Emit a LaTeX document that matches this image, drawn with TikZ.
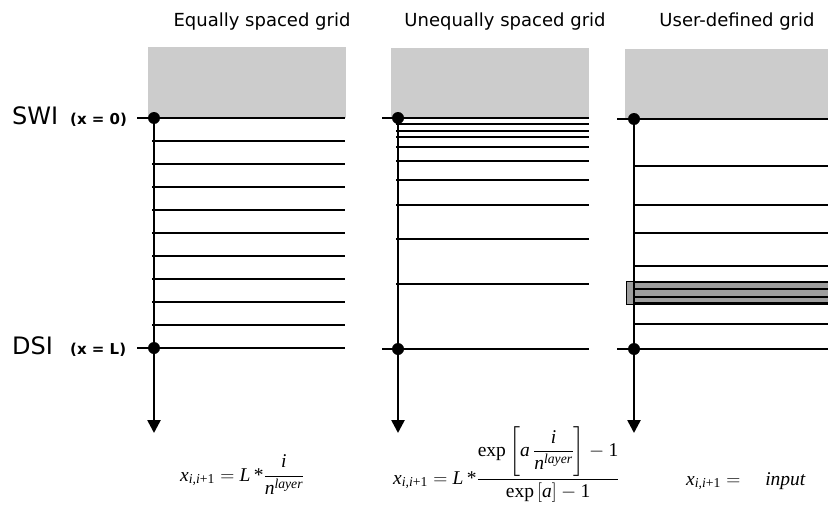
\RequirePackage{fix-cm}
\documentclass[tikz,border=0pt]{standalone}
\usepackage{amsmath}
\usepackage{fontspec}
\setmainfont{DejaVu Sans}
\newfontfamily\tmsfont{Liberation Serif}
\newcommand{\tv}[1]{\text{\tmsfont\itshape #1}}
\newcommand{\tr}[1]{\text{\tmsfont #1}}
\usetikzlibrary{arrows.meta}
\definecolor{boxgray}{HTML}{CCCCCC}
\definecolor{bandgray}{HTML}{9E9E9E}
\tikzset{
  titlelbl/.style={font=\fontsize{18}{20}\selectfont, anchor=base, inner sep=0},
  biglbl/.style={font=\fontsize{24}{26}\selectfont, anchor=base west, inner sep=0},
  smalllbl/.style={font=\fontsize{15}{17}\selectfont\bfseries, anchor=base west, inner sep=0},
  dotnode/.style={circle, fill=black, minimum size=12pt, inner sep=0},
  axisline/.style={line width=2.6pt, -{Triangle[width=13pt,length=13pt]}},
  boundline/.style={line width=2.4pt},
  gridline/.style={line width=1.4pt},
  eqlbl/.style={font=\fontsize{19.5}{22}\selectfont, inner sep=0, anchor=base west},
}
\begin{document}
\begin{tikzpicture}[x=1pt,y=-1pt]
\useasboundingbox (0,0) rectangle (828,506);
% titles
\node[titlelbl] (t1) at (262,27) {Equally spaced grid};
\node[titlelbl] (t2) at (505,27) {Unequally spaced grid};
\node[titlelbl] (t3) at (737,27) {User-defined grid};
% side labels
\node[biglbl] (swi) at (12,124) {SWI};
\node[smalllbl] (swix) at (70,124) {(x = 0)};
\node[biglbl] (dsi) at (12,354) {DSI};
\node[smalllbl] (dsix) at (70,354) {(x = L)};
% gray boxes
\fill[boxgray] (148,47) rectangle (346,118);
\fill[boxgray] (391,48) rectangle (589,118);
\fill[boxgray] (625,49) rectangle (828,118);
% ===== panel 1 =====
\foreach \y in {141,164,187,210,233,256,279,302,325}
  \draw[gridline] (152,\y) -- (345,\y);
\coordinate (a1s) at (137,118); \coordinate (a1e) at (345,118);
\coordinate (b1s) at (137,348); \coordinate (b1e) at (345,348);
\draw[boundline] (a1s) -- (a1e);
\draw[boundline] (b1s) -- (b1e);
\node[dotnode] (d1a) at (154,118) {};
\node[dotnode] (d1b) at (154,348) {};
\coordinate (tip1) at (154,433);
\draw[axisline] (d1a.center) -- (tip1);
% ===== panel 2 =====
\foreach \y in {124,131,137,147,161,180,205,239,284}
  \draw[gridline] (396,\y) -- (589,\y);
\coordinate (a2s) at (382,118); \coordinate (a2e) at (589,118);
\coordinate (b2s) at (382,349); \coordinate (b2e) at (589,349);
\draw[boundline] (a2s) -- (a2e);
\draw[boundline] (b2s) -- (b2e);
\node[dotnode] (d2a) at (398,118) {};
\node[dotnode] (d2b) at (398,349) {};
\coordinate (tip2) at (398,433);
\draw[axisline] (d2a.center) -- (tip2);
% ===== panel 3 =====
\draw[fill=bandgray, line width=0.6pt] (626,281) rectangle (829,304);
\foreach \y in {166,205,233,266,324}
  \draw[gridline] (633,\y) -- (828,\y);
\foreach \y in {282,289,297,303}
  \draw[gridline] (633,\y) -- (828,\y);
\coordinate (a3s) at (617,119); \coordinate (a3e) at (828,119);
\coordinate (b3s) at (617,349); \coordinate (b3e) at (828,349);
\draw[boundline] (a3s) -- (a3e);
\draw[boundline] (b3s) -- (b3e);
\node[dotnode] (d3a) at (634,119) {};
\node[dotnode] (d3b) at (634,349) {};
\coordinate (tip3) at (634,433);
\draw[axisline] (d3a.center) -- (tip3);
% ===== equations =====
\node[eqlbl] (eq1) at (180,481) {$\tv{x}_{\tv{i,i}\tr{+1}} = \tv{L}\,\tr{*}\dfrac{\tv{i}}{\tv{n}^{\tv{layer}}}$};
\node[eqlbl] (eq2) at (393,484) {$\tv{x}_{\tv{i,i}\tr{+1}} = \tv{L}\,\tr{*}\dfrac{\tr{exp}\left[\tv{a}\,\dfrac{\tv{i}}{\tv{n}^{\tv{layer}}}\right]-\tr{1}}{\tr{exp}\left[\tv{a}\right]-\tr{1}}$};
\node[eqlbl] (eq3) at (686,485) {$\tv{x}_{\tv{i,i}\tr{+1}} = \quad \tv{input}$};
\end{tikzpicture}
\end{document}
